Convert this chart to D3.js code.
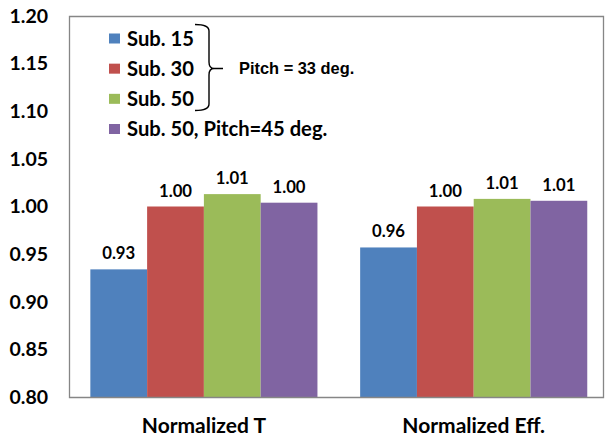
<!DOCTYPE html>
<html>
<head>
<meta charset="utf-8">
<script src="https://cdn.jsdelivr.net/npm/d3@7"></script>
<style>
  html, body { margin: 0; padding: 0; background: #fff; }
  svg { display: block; }
  text { font-family: Lato, "Open Sans", sans-serif; font-weight: 700; fill: #000; }
</style>
</head>
<body>
<svg id="chart" width="605" height="437"></svg>
<script>
// Categories along the x axis
const categories = ["Normalized T", "Normalized Eff."];
// One series per configuration
const seriesNames = ["Sub. 15", "Sub. 30", "Sub. 50", "Sub. 50, Pitch=45 deg."];
const seriesColors = ["#4F81BD", "#C0504D", "#9BBB59", "#8064A2"];
// Values per series, in category order
const sub15 = [0.934, 0.957];
const sub30 = [1.000, 1.000];
const sub50 = [1.013, 1.008];
const sub50p45 = [1.004, 1.006];
const seriesValues = [sub15, sub30, sub50, sub50p45];
// Y axis ticks
const yTicks = [0.80, 0.85, 0.90, 0.95, 1.00, 1.05, 1.10, 1.15, 1.20];

const svg = d3.select("#chart");
const plot = { left: 69, top: 16, bottom: 397, right: 603, bandEnd: 608.6 };

const y = d3.scaleLinear().domain([0.80, 1.20]).range([plot.bottom, plot.top]);
const x0 = d3.scaleBand().domain(categories)
  .range([plot.left, plot.bandEnd]).paddingInner(0.1583).paddingOuter(0.0791);
const x1 = d3.scaleBand().domain(d3.range(seriesNames.length))
  .range([0, x0.bandwidth()]).padding(0);

// Bars with value labels
const groups = svg.append("g").selectAll("g")
  .data(categories).join("g")
  .attr("transform", d => `translate(${x0(d)},0)`);

groups.each(function(cat, ci) {
  const g = d3.select(this);
  const rows = seriesValues.map((vals, si) => ({ si, v: vals[ci] }));
  g.selectAll("rect").data(rows).join("rect")
    .attr("x", d => x1(d.si))
    .attr("width", x1.bandwidth())
    .attr("y", d => y(d.v))
    .attr("height", d => plot.bottom - y(d.v))
    .attr("fill", d => seriesColors[d.si]);
  g.selectAll("text.val").data(rows).join("text")
    .attr("class", "val")
    .attr("x", d => x1(d.si) + x1.bandwidth() / 2)
    .attr("y", d => y(d.v) - 10)
    .attr("text-anchor", "middle")
    .style("font-size", "16.7px")
    .text(d => d.v.toFixed(2));
});

// Plot frame
svg.append("path")
  .attr("d", `M${plot.left + 0.5},${plot.bottom + 0.5} V${plot.top + 0.5} H${plot.right + 0.5} V${plot.bottom + 0.5} Z`)
  .attr("fill", "none")
  .attr("stroke", "#868686")
  .attr("stroke-width", 1.3);

// Y axis labels
const yAxis = d3.axisLeft(y).tickValues(yTicks).tickFormat(d3.format(".2f")).tickSize(0).tickPadding(21);
const ya = svg.append("g").attr("transform", `translate(${plot.left},0)`).call(yAxis);
ya.select(".domain").remove();
ya.selectAll("text").style("font-size", "19.5px").style("font-family", "Lato, sans-serif").style("font-weight", 700);

// X axis labels
const xAxis = d3.axisBottom(x0).tickSize(0).tickPadding(21);
const xa = svg.append("g").attr("transform", `translate(0,${plot.bottom})`).call(xAxis);
xa.select(".domain").remove();
xa.selectAll("text").style("font-size", "21px").style("font-family", "Lato, sans-serif").style("font-weight", 700);

// Legend
const legendRowY = d3.scaleLinear().domain([0, 3]).range([38.5, 129]);
const legend = svg.append("g").selectAll("g").data(seriesNames).join("g")
  .attr("transform", (d, i) => `translate(109,${legendRowY(i)})`);
legend.append("rect").attr("x", 0).attr("y", -5).attr("width", 11).attr("height", 10)
  .attr("fill", (d, i) => seriesColors[i]);
legend.append("text").attr("x", 18).attr("dy", "0.36em")
  .style("font-size", "20.2px").text(d => d);

// Brace grouping the first three series
svg.append("path")
  .attr("d", "M195,24.5 Q209,24.5 209,31 L209,62 Q209,68.5 214,68.5 L223,68.5 M214,68.5 Q209,68.5 209,75 L209,104 Q209,110.5 195,110.5")
  .attr("fill", "none").attr("stroke", "#000").attr("stroke-width", 1.4);
svg.append("text").attr("x", 239).attr("y", 68.5).attr("dy", "0.36em")
  .style("font-family", "'Liberation Sans', Arial, sans-serif").style("font-size", "16.4px")
  .text("Pitch = 33 deg.");
</script>
</body>
</html>
